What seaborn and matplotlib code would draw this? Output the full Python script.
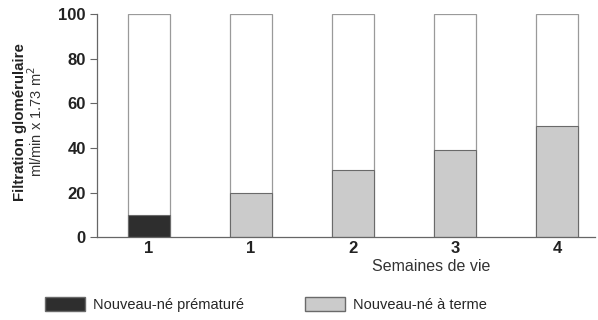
import pandas as pd
import seaborn as sns
from matplotlib import pyplot as plt
from matplotlib.patches import Patch

week_labels = ['1', '1', '2', '3', '4']
groups = ['Nouveau-né prématuré', 'Nouveau-né à terme', 'Nouveau-né à terme',
          'Nouveau-né à terme', 'Nouveau-né à terme']
gfr = [10, 20, 30, 39, 50]
adult = [100, 100, 100, 100, 100]

palette = {'Nouveau-né prématuré': '#2e2e2e', 'Nouveau-né à terme': '#cbcbcb'}

df = pd.DataFrame({'pos': range(len(gfr)), 'semaine': week_labels,
                   'groupe': groups, 'gfr': gfr, 'adulte': adult})

sns.set_style('white')
plt.rcParams['font.family'] = ['Liberation Sans', 'DejaVu Sans']

fig = plt.figure(figsize=(5.98, 3.2), dpi=100)
ax = fig.add_axes([0.162, 0.259, 0.833, 0.697])

sns.barplot(data=df, x='pos', y='adulte', color='white', edgecolor='#9a9a9a',
            linewidth=0.9, width=0.41, ax=ax)
sns.barplot(data=df, x='pos', y='gfr', hue='groupe', palette=palette,
            edgecolor='#6a6a6a', linewidth=0.8, width=0.41, dodge=False,
            legend=False, ax=ax)

ax.set_xlim(-0.51, 4.37)
ax.set_ylim(0, 100)
ax.set_yticks([0, 20, 40, 60, 80, 100])
ax.set_xticks(range(len(week_labels)))
ax.set_xticklabels(week_labels, fontweight='bold', fontsize=12, color='#222222')
ax.tick_params(axis='x', length=0, pad=3)
ax.tick_params(axis='y', length=5, width=0.8, color='#666666', left=True,
               labelsize=12, pad=3, labelcolor='#222222')
for lbl in ax.get_yticklabels():
    lbl.set_fontweight('bold')

sns.despine(ax=ax)
for side in ['left', 'bottom']:
    ax.spines[side].set_color('#666666')
    ax.spines[side].set_linewidth(0.9)

ax.set_xlabel('')
ax.set_ylabel('')
fig.text(0.033, 0.62, 'Filtration glomérulaire', rotation=90, fontsize=10.8,
         fontweight='bold', ha='center', va='center', color='#222222')
fig.text(0.060, 0.62, 'ml/min x 1.73 m$^2$', rotation=90, fontsize=10.5,
         ha='center', va='center', color='#333333')
fig.text(0.820, 0.168, 'Semaines de vie', fontsize=11.5, ha='right',
         va='center', color='#333333')

handles = [Patch(facecolor=palette[g], edgecolor='#6a6a6a') for g in palette]
fig.legend(handles, list(palette), loc='center left', bbox_to_anchor=(0.075, 0.047),
           ncol=2, frameon=False, fontsize=10.5, handlelength=2.75, handleheight=1.1,
           columnspacing=4.2, handletextpad=0.55, borderpad=0, borderaxespad=0)

plt.savefig('out.png', dpi=100)
